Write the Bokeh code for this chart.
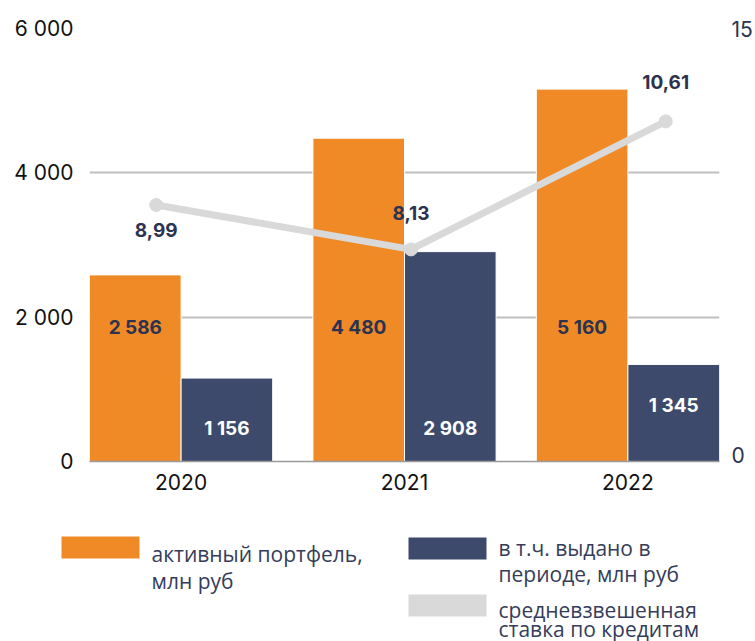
from bokeh.plotting import figure
from bokeh.models import ColumnDataSource, Range1d, LinearAxis, FixedTicker
from bokeh.layouts import column
from bokeh.embed import file_html
from bokeh.resources import INLINE

# ---- data ----
years = ["2020", "2021", "2022"]
portfolio = [2586, 4480, 5160]          # активный портфель, млн руб
issued = [1156, 2908, 1345]             # в т.ч. выдано в периоде, млн руб
rate = [8.99, 8.13, 10.61]              # средневзвешенная ставка по кредитам
portfolio_labels = ["2 586", "4 480", "5 160"]
issued_labels = ["1 156", "2 908", "1 345"]
rate_labels = ["8,99", "8,13", "10,61"]
left_ticks = [0, 2000, 4000, 6000]
left_tick_labels = ["0", "2 000", "4 000", "6 000"]
right_tick_labels = ["0", "15"]
legend_labels = ["активный портфель,\nмлн руб",
                 "в т.ч. выдано в\nпериоде, млн руб",
                 "средневзвешенная\nставка по кредитам"]

# ---- styles / placement ----
ORANGE = "#ef8a27"
NAVY = "#3e4a6b"
GREY = "#d9d9d9"
TEXT = "#2b3350"
NUM_FONT = "Inter"
LEG_FONT = "Open Sans"
BW = 0.41
W = 755
H_MAIN = 520
H_LEG = 121
# anchor heights for in-bar labels (data units) and offsets for rate labels (px)
portfolio_label_y = [1850, 1850, 1850]
issued_label_y = [460, 460, 775]
rate_label_dy = [25, -36, -39]
# legend layout (pixels inside the legend strip, y downwards)
leg_swatch_left = [61, 408, 408]
leg_swatch_top = [16, 17, 74]
leg_text_baseline = [[33.5, 60.5], [27, 53], [89, 108]]
leg_colors = [ORANGE, NAVY, GREY]

xs = list(range(len(years)))
src = ColumnDataSource(dict(
    x=xs,
    xo=[x - BW / 2 for x in xs],
    xn=[x + BW / 2 for x in xs],
    portfolio=portfolio, issued=issued,
    pl=portfolio_labels, il=issued_labels,
    ply=portfolio_label_y, ily=issued_label_y,
))
rsrc = ColumnDataSource(dict(x=xs, rate=rate, rl=rate_labels, dy=rate_label_dy))

p = figure(width=W, height=H_MAIN, output_backend="svg", toolbar_location=None,
           x_range=Range1d(-BW, len(years) - 1 + BW), y_range=Range1d(0, 6000),
           min_border_left=89, min_border_right=34, min_border_top=28,
           min_border_bottom=H_MAIN - 461)
p.frame_align = False
p.outline_line_color = None
p.background_fill_color = "white"
p.border_fill_color = "white"

p.extra_y_ranges = {"rate": Range1d(4.02, 12.41)}
p.extra_x_ranges = {"rx": Range1d(-0.262, 2.211)}

# grid
p.xgrid.grid_line_color = None
p.ygrid.ticker = FixedTicker(ticks=left_ticks)
p.ygrid.grid_line_color = "#bfbfbf"
p.ygrid.grid_line_width = 2

# bars
r1 = p.vbar(x="xo", top="portfolio", width=BW, bottom=0, source=src,
            fill_color=ORANGE, line_color="white", line_width=1)
r2 = p.vbar(x="xn", top="issued", width=BW, bottom=0, source=src,
            fill_color=NAVY, line_color="white", line_width=1)

# bar labels
p.text(x="xo", y="ply", text="pl", source=src, text_align="center",
       text_baseline="middle", text_color=TEXT, text_font_size="19px",
       text_font_style="bold", text_font={"value": NUM_FONT})
p.text(x="xn", y="ily", text="il", source=src, text_align="center",
       text_baseline="middle", text_color="white", text_font_size="19px",
       text_font_style="bold", text_font={"value": NUM_FONT})

# rate line
r3 = p.line(x="x", y="rate", source=rsrc, x_range_name="rx", y_range_name="rate",
            line_color=GREY, line_width=7)
p.scatter(x="x", y="rate", source=rsrc, x_range_name="rx", y_range_name="rate",
          size=13, fill_color=GREY, line_color=GREY)
p.text(x="x", y="rate", text="rl", y_offset="dy", source=rsrc, x_range_name="rx",
       y_range_name="rate", text_align="center", text_baseline="middle",
       text_color=TEXT, text_font_size="19px", text_font_style="bold",
       text_font={"value": NUM_FONT})

# axes
p.xaxis.ticker = FixedTicker(ticks=xs)
p.xaxis.major_label_overrides = {x: y for x, y in zip(xs, years)}
p.xaxis.major_tick_line_color = None
p.xaxis.minor_tick_line_color = None
p.xaxis.major_tick_out = 0
p.xaxis.major_tick_in = 0
p.xaxis.axis_line_color = "#9a9a9a"
p.xaxis.axis_line_width = 1.5
p.xaxis.major_label_text_font = NUM_FONT
p.xaxis.major_label_text_font_size = "21px"
p.xaxis.major_label_text_color = "#111111"
p.xaxis.major_label_standoff = 12

p.yaxis.ticker = FixedTicker(ticks=left_ticks)
p.yaxis.major_label_overrides = {t: l for t, l in zip(left_ticks, left_tick_labels)}
p.yaxis.axis_line_color = None
p.yaxis.major_tick_line_color = None
p.yaxis.minor_tick_line_color = None
p.yaxis.major_tick_out = 0
p.yaxis.major_tick_in = 0
p.yaxis.major_label_text_font = NUM_FONT
p.yaxis.major_label_text_font_size = "21px"
p.yaxis.major_label_text_color = "#111111"
p.yaxis.major_label_standoff = 16

rr = p.extra_y_ranges["rate"]
rax = LinearAxis(y_range_name="rate",
                 ticker=FixedTicker(ticks=[4.14, rr.end]),
                 major_label_overrides={4.14: right_tick_labels[0],
                                        rr.end: right_tick_labels[1]})
rax.axis_line_color = None
rax.major_tick_line_color = None
rax.minor_tick_line_color = None
rax.major_tick_out = 0
rax.major_tick_in = 0
rax.major_label_text_font = NUM_FONT
rax.major_label_text_font_size = "21px"
rax.major_label_text_color = TEXT
rax.major_label_standoff = 12
p.add_layout(rax, "right")

# ---- legend strip ----
lg = figure(width=W, height=H_LEG, output_backend="svg", toolbar_location=None,
            x_range=Range1d(0, W), y_range=Range1d(H_LEG, 0),
            x_axis_location=None, y_axis_location=None, min_border=0)
lg.frame_align = False
lg.outline_line_color = None
lg.xgrid.grid_line_color = None
lg.ygrid.grid_line_color = None
lsrc = ColumnDataSource(dict(
    left=leg_swatch_left,
    right=[l + 78 for l in leg_swatch_left],
    top=leg_swatch_top,
    bottom=[t + 22 for t in leg_swatch_top],
    color=leg_colors,
))
lg.quad(left="left", right="right", top="top", bottom="bottom", source=lsrc,
        fill_color="color", line_color=None)
tx, ty, tt = [], [], []
for lbl, l, bl in zip(legend_labels, leg_swatch_left, leg_text_baseline):
    for line, b in zip(lbl.split("\n"), bl):
        tx.append(l + 90)
        ty.append(b)
        tt.append(line)
lg.text(x=tx, y=ty, text=tt, text_align="left", text_baseline="alphabetic",
        text_color="#353c5a", text_font_size="21px",
        text_font={"value": LEG_FONT})

layout = column(p, lg, spacing=0)
open("out.html", "w").write(file_html(layout, INLINE))
